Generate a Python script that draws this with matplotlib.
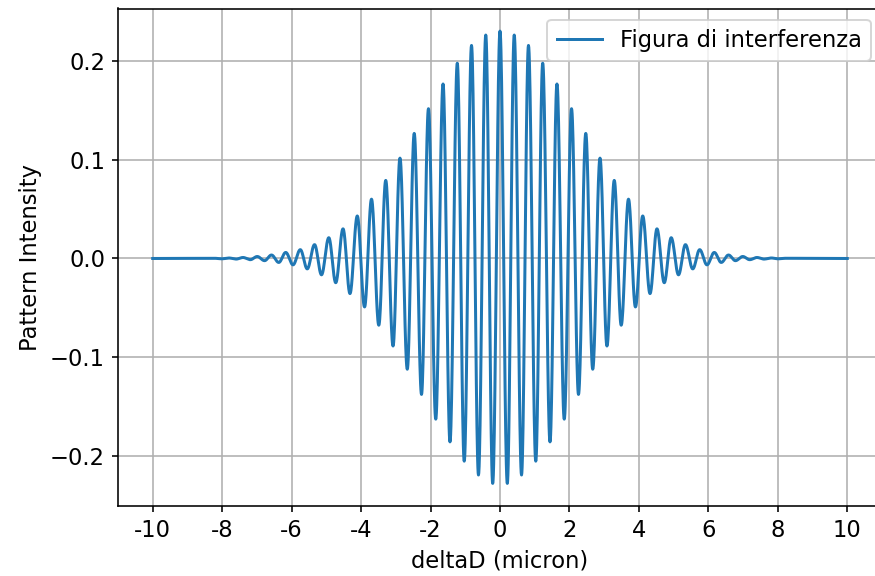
#!/usr/bin/env python3
"""Interference pattern (interferogram) versus path difference."""

from __future__ import annotations

import matplotlib

matplotlib.use("Agg")
import matplotlib.pyplot as plt
import numpy as np


DPI = 144
WIDTH_PX = 875
HEIGHT_PX = 576

# Fringe extrema for deltaD >= 0 (the pattern is even).
extrema_x = [
    0.00, 0.21, 0.41, 0.62, 0.82, 1.03, 1.23, 1.44, 1.64, 1.85,
    2.06, 2.26, 2.47, 2.67, 2.88, 3.08, 3.29, 3.49, 3.70, 3.90,
    4.11, 4.32, 4.52, 4.73, 4.93, 5.14, 5.34, 5.55, 5.75, 5.96,
    6.17, 6.37, 6.58, 6.78, 6.99, 7.19, 7.40, 7.60, 7.81, 8.01,
    8.22,
]
extrema_y = [
    0.2300, -0.2275, 0.2260, -0.2190, 0.2155, -0.2050, 0.1975, -0.1855,
    0.1765, -0.1625, 0.1515, -0.1375, 0.1265, -0.1120, 0.1015, -0.0885,
    0.0790, -0.0675, 0.0600, -0.0490, 0.0430, -0.0355, 0.0300, -0.0245,
    0.0210, -0.0165, 0.0140, -0.0105, 0.0089, -0.0064, 0.0061, -0.0040,
    0.0035, -0.0022, 0.0020, -0.0012, 0.0010, -0.0006, 0.0005, -0.0003,
    0.0002,
]
x_range = [-10.0, 10.0]

x_ticks = [-10, -8, -6, -4, -2, 0, 2, 4, 6, 8, 10]
x_tick_labels = ["-10", "-8", "-6", "-4", "-2", "0", "2", "4", "6", "8", "10"]

LINE_COLOR = "#1f77b4"
FONT_SIZE = 11.3


def build_curve() -> tuple[np.ndarray, np.ndarray]:
  ex = np.asarray(extrema_x)
  ey = np.asarray(extrema_y)
  xs = np.concatenate([[x_range[0]], -ex[::-1][:-1], ex, [x_range[1]]])
  ys = np.concatenate([[0.0], ey[::-1][:-1], ey, [0.0]])
  # half-cosine segment between neighbouring extrema
  t = np.linspace(0.0, 1.0, 24)
  cx: list[np.ndarray] = []
  cy: list[np.ndarray] = []
  for i in range(len(xs) - 1):
    x0, x1 = xs[i], xs[i + 1]
    y0, y1 = ys[i], ys[i + 1]
    seg_t = t if i == 0 else t[1:]
    cx.append(x0 + (x1 - x0) * seg_t)
    cy.append((y0 + y1) / 2 + (y0 - y1) / 2 * np.cos(np.pi * seg_t))
  return np.concatenate(cx), np.concatenate(cy)


def plot() -> None:
  plt.rcParams["font.size"] = FONT_SIZE
  figure = plt.figure(figsize=(WIDTH_PX / DPI, HEIGHT_PX / DPI), dpi=DPI)
  figure.patch.set_facecolor("white")
  axis = figure.add_axes([118 / WIDTH_PX, 70 / HEIGHT_PX,
                          (882 - 118) / WIDTH_PX, (506 - 8.5) / HEIGHT_PX])

  x, y = build_curve()
  axis.plot(x, y, color=LINE_COLOR, linewidth=1.5, label="Figura di interferenza")

  axis.set_xticks(x_ticks)
  axis.set_xticklabels(x_tick_labels)
  axis.tick_params(length=3)
  axis.set_xlabel("deltaD (micron)")
  axis.set_ylabel("Pattern Intensity")
  axis.grid(True)
  axis.legend(loc="upper right")

  figure.savefig("out.png", dpi=DPI)
  plt.close(figure)


def main() -> None:
  plot()


if __name__ == "__main__":
  main()
